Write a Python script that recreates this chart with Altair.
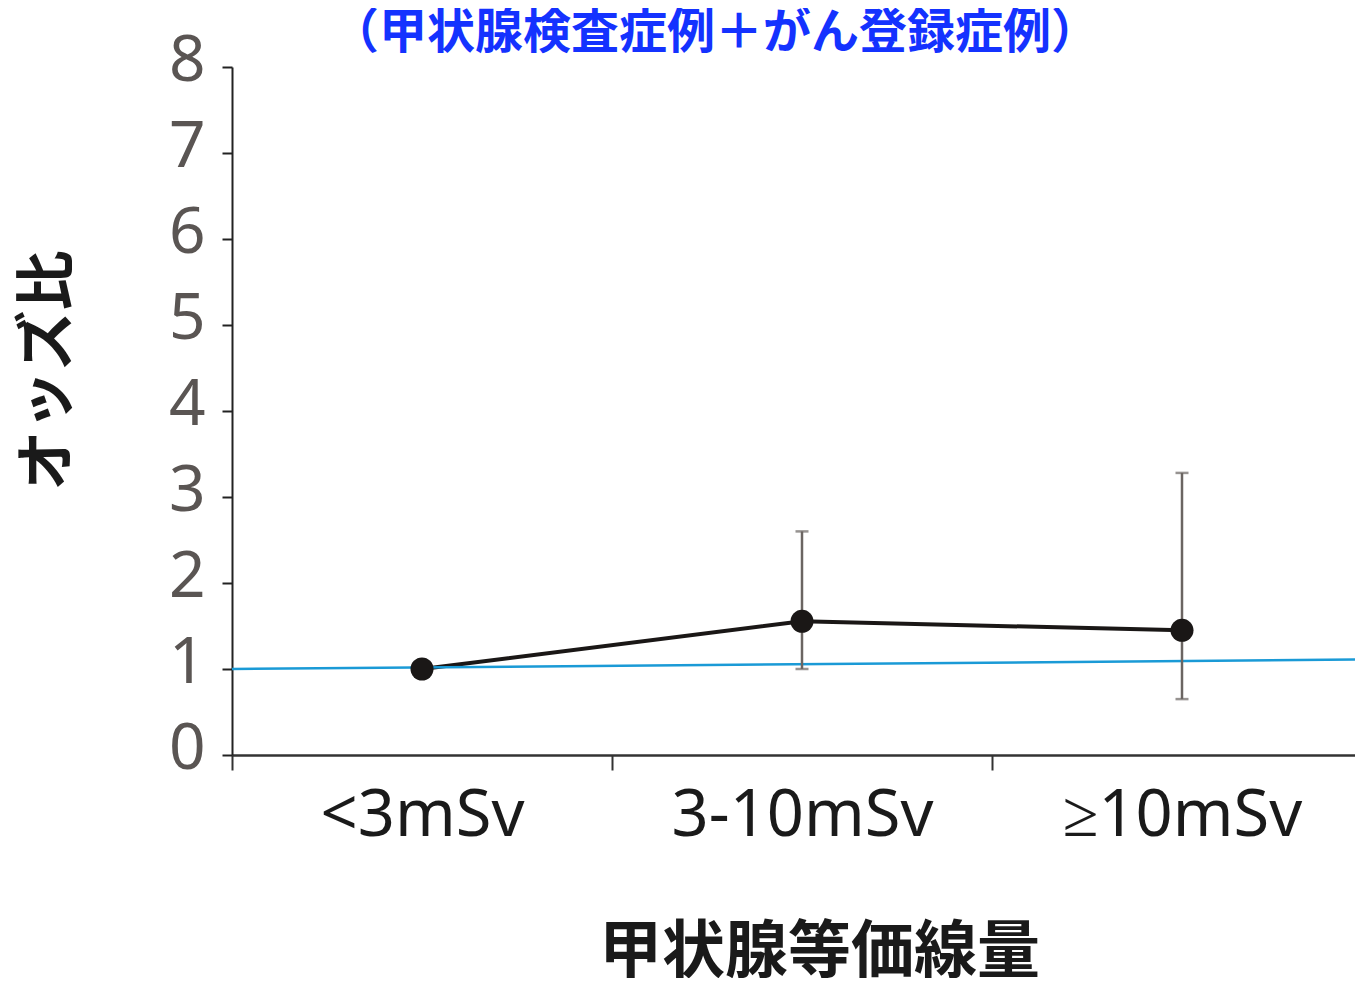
import altair as alt
import pandas as pd

categories = ["<3mSv", "3-10mSv", "≥10mSv"]
odds = [1.0, 1.555, 1.45]
ci_low = [1.0, 1.0, 0.65]
ci_high = [1.0, 2.60, 3.28]
ref_start = [1.0]
ref_end = [1.11]
title_text = ["（甲状腺検査症例＋がん登録症例）"]

df = pd.DataFrame({"cat": categories, "odds": odds, "lo": ci_low, "hi": ci_high})
err_df = df.iloc[1:]
ref_df = pd.DataFrame({"y1": ref_start, "y2": ref_end})
title_df = pd.DataFrame({"t": title_text})

W, H = 1123, 688
FONT = "Noto Sans CJK JP"

xscale = alt.Scale(domain=categories, range=[0, 1140], paddingInner=0, paddingOuter=0)
yscale = alt.Scale(domain=[0, 8], nice=False, zero=True)

x = alt.X(
    "cat:N",
    sort=categories,
    scale=xscale,
    axis=alt.Axis(
        title="甲状腺等価線量",
        titleFont=FONT, titleFontSize=63, titleFontWeight="bold", titleColor="#1a1a1a",
        titleX=587, titleY=197, titleBaseline="middle", titleAnchor="start", titleAlign="center",
        labelFont="Noto Sans", labelFontSize=65, labelColor="#1a1a1a", labelAngle=0,
        labelBaseline="alphabetic", labelPadding=65, labelLimit=0,
        tickBand="extent", tickSize=15, tickColor="#333333", tickWidth=2,
        domainColor="#333333", domainWidth=2.5, grid=False,
    ),
)
y = alt.Y(
    "odds:Q",
    scale=yscale,
    axis=alt.Axis(
        title="オッズ比", values=list(range(0, 9)), format="d",
        titleFont=FONT, titleFontSize=60, titleFontWeight="bold", titleColor="#1a1a1a",
        titleX=-184, titleY=303, titleBaseline="middle", titleAlign="center", titleAngle=-90,
        labelFont="Noto Sans", labelFontSize=64, labelColor="#5a5553",
        labelBaseline="alphabetic", labelOffset=13, labelPadding=17,
        tickSize=10, tickColor="#222222", tickWidth=2,
        domainColor="#222222", domainWidth=2, grid=False,
    ),
)

base = alt.Chart(df)

ref = alt.Chart(ref_df).mark_rule(color="#1a9ad6", strokeWidth=2.5).encode(
    x=alt.value(0), x2=alt.value(W),
    y=alt.Y("y1:Q", scale=yscale), y2="y2:Q",
)

xe = alt.X("cat:N", sort=categories, scale=xscale)
err = alt.Chart(err_df).mark_rule(color="#6b6562", strokeWidth=2.5).encode(
    x=xe, y=alt.Y("lo:Q", scale=yscale), y2="hi:Q"
)
cap_lo = alt.Chart(err_df).mark_tick(color="#6b6562", thickness=2.5, size=13).encode(
    x=xe, y=alt.Y("lo:Q", scale=yscale)
)
cap_hi = alt.Chart(err_df).mark_tick(color="#6b6562", thickness=2.5, size=13).encode(
    x=xe, y=alt.Y("hi:Q", scale=yscale)
)

line = base.mark_line(color="#1a1716", strokeWidth=4).encode(x=x, y=y)
pts = base.mark_point(filled=True, color="#1a1716", size=530, opacity=1).encode(x=x, y=y)

title = alt.Chart(title_df).mark_text(
    font=FONT, fontSize=48, fontWeight="bold", color="#1432ff",
    align="center", baseline="middle",
).encode(text="t:N", x=alt.value(483), y=alt.value(-33))

chart = alt.layer(line, ref, err, cap_lo, cap_hi, pts, title).properties(
    width=W, height=H,
    autosize="none",
    background="white",
    padding={"left": 224, "top": 59, "right": 0, "bottom": 223},
).configure_view(stroke=None, strokeWidth=0).configure_axis(grid=False)

chart.save("out.html", embed_options={"renderer": "svg", "actions": False})
